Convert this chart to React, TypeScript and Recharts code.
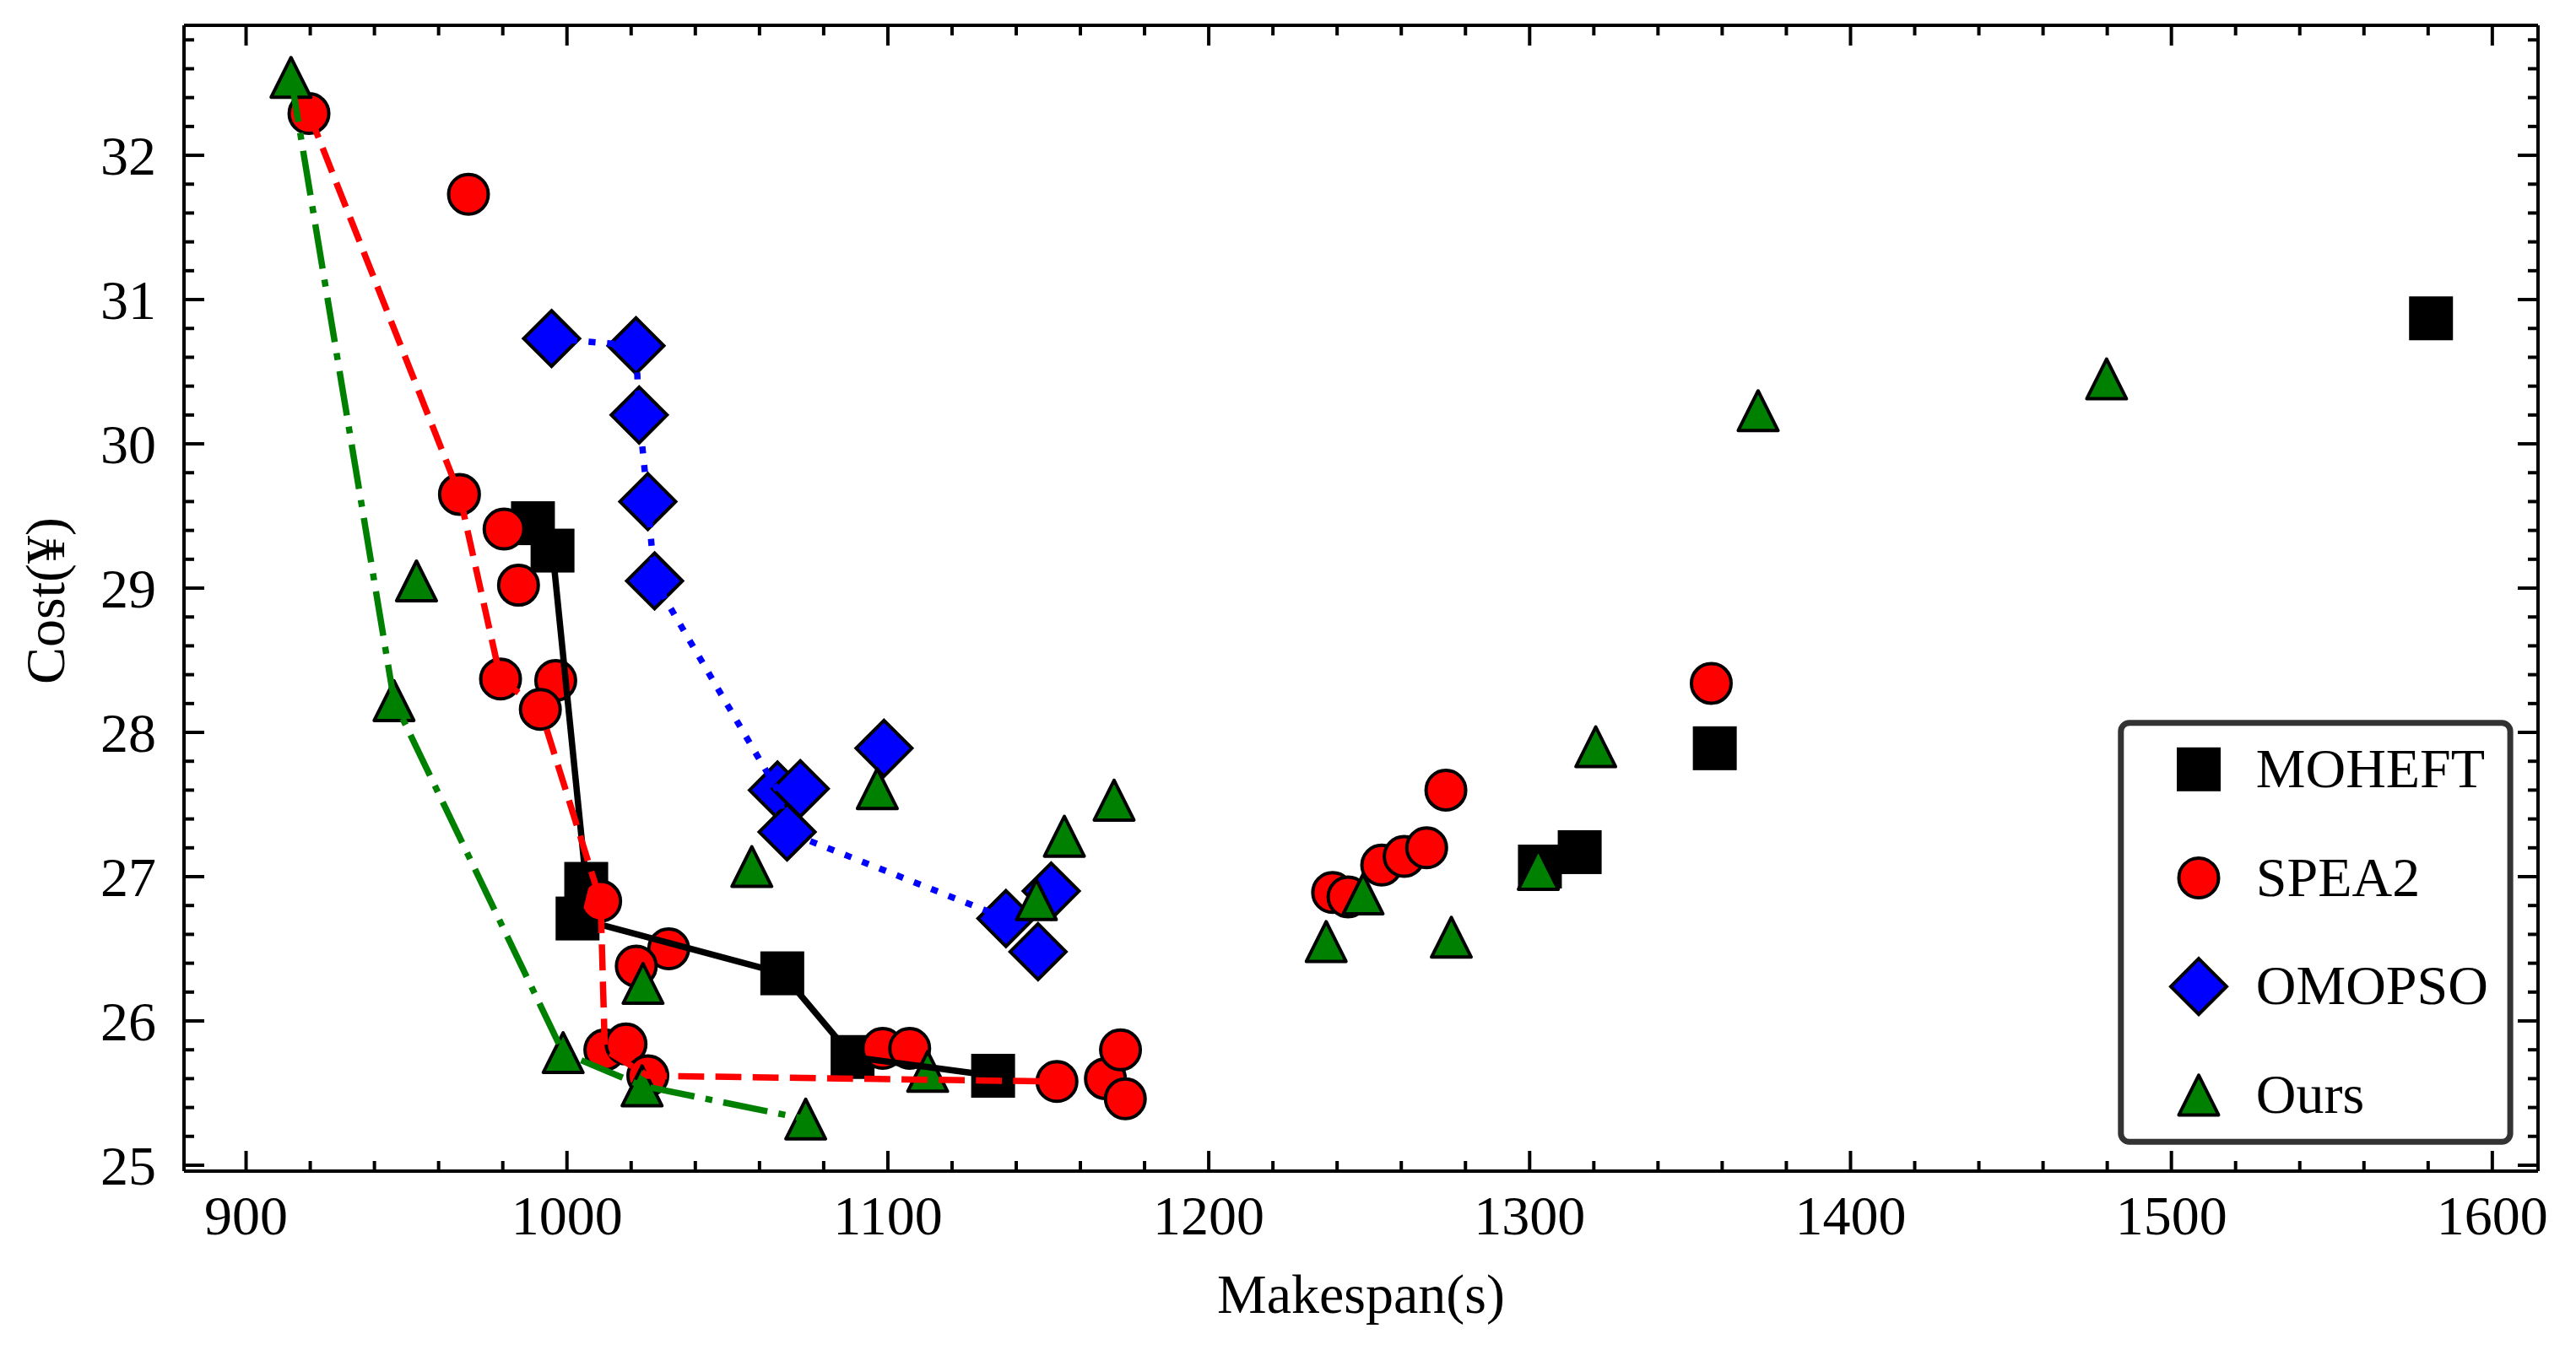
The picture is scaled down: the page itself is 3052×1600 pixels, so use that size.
import React from "react"
import { Legend, Scatter, ScatterChart, XAxis, YAxis } from "recharts"

// MOHEFT
const moheftMakespan = [989.4, 995.5, 1006.0, 1003.3, 1067.1, 1089.0, 1132.8, 1303.2, 1315.6, 1357.7, 1580.9]
const moheftCost = [29.45, 29.26, 26.95, 26.71, 26.33, 25.75, 25.62, 27.07, 27.17, 27.89, 30.87]
const moheftFrontMakespan = [989.4, 995.5, 1006.0, 1003.3, 1067.1, 1089.0, 1132.8]
const moheftFrontCost = [29.45, 29.26, 26.95, 26.71, 26.33, 25.75, 25.62]

// SPEA2
const spea2Makespan = [
  919.6, 969.3, 966.5, 980.4, 984.9, 979.3, 996.5, 991.7, 1010.5, 1031.7, 1021.6, 1011.8, 1018.4, 1025.2,
  1098.4, 1106.8, 1152.7, 1167.8, 1172.5, 1174.0, 1238.6, 1243.4, 1253.9, 1260.9, 1267.9, 1273.9, 1356.6,
]
const spea2Cost = [
  32.29, 31.73, 29.65, 29.41, 29.02, 28.37, 28.36, 28.16, 26.83, 26.5, 26.38, 25.8, 25.84, 25.62,
  25.81, 25.81, 25.58, 25.6, 25.8, 25.46, 26.89, 26.86, 27.08, 27.14, 27.2, 27.6, 28.34,
]
const spea2FrontMakespan = [919.6, 966.5, 979.3, 991.7, 1010.5, 1011.8, 1025.2, 1152.7]
const spea2FrontCost = [32.29, 29.65, 28.37, 28.16, 26.83, 25.8, 25.62, 25.58]

// OMOPSO
const omopsoMakespan = [995.2, 1021.5, 1022.5, 1025.2, 1027.3, 1065.6, 1072.7, 1068.6, 1098.8, 1136.8, 1150.9, 1146.8]
const omopsoCost = [30.73, 30.68, 30.2, 29.6, 29.05, 27.6, 27.61, 27.31, 27.89, 26.71, 26.9, 26.48]
const omopsoFrontMakespan = [995.2, 1021.5, 1022.5, 1025.2, 1027.3, 1065.6, 1068.6, 1136.8]
const omopsoFrontCost = [30.73, 30.68, 30.2, 29.6, 29.05, 27.6, 27.31, 26.71]

// Ours
const oursMakespan = [
  914.0, 953.1, 946.1, 998.8, 1023.4, 1023.7, 1074.4, 1057.6, 1096.7, 1112.4, 1146.3, 1155.0, 1170.5,
  1236.6, 1248.1, 1275.6, 1302.7, 1320.6, 1371.2, 1479.8,
]
const oursCost = [
  32.54, 29.05, 28.22, 25.78, 25.55, 26.26, 25.32, 27.07, 27.61, 25.65, 26.84, 27.28, 27.53,
  26.55, 26.88, 26.58, 27.05, 27.9, 30.23, 30.45,
]
const oursFrontMakespan = [914.0, 946.1, 998.8, 1023.4, 1074.4]
const oursFrontCost = [32.54, 28.22, 25.78, 25.55, 25.32]

const xMajorTicks = [900, 1000, 1100, 1200, 1300, 1400, 1500, 1600]
const yMajorTicks = [25, 26, 27, 28, 29, 30, 31, 32]

const toPoints = (xs: number[], ys: number[]) => xs.map((x, i) => ({ x, y: ys[i] }))

// matplotlib style auto limits: 5% padding around data
const padded = (vals: number[]): [number, number] => {
  const lo = Math.min(...vals)
  const hi = Math.max(...vals)
  const m = (hi - lo) * 0.05
  return [lo - m, hi + m]
}
const xDomain = padded([...moheftMakespan, ...spea2Makespan, ...omopsoMakespan, ...oursMakespan])
const yDomain = padded([...moheftCost, ...spea2Cost, ...omopsoCost, ...oursCost])

const round = (v: number) => Math.round(v * 100) / 100
const xTicks = xMajorTicks
  .flatMap((m) => [0, 1, 2, 3, 4].map((k) => m + k * 20))
  .filter((v) => v <= xDomain[1])
const yTicks = yMajorTicks
  .flatMap((m) => [0, 1, 2, 3, 4].map((k) => round(m + k * 0.2)))
  .filter((v) => v <= yDomain[1])

const FONT = "'Liberation Serif', 'DejaVu Serif', serif"
const FS = 66
const MAJOR = 24
const MINOR = 12
const EDGE = 4

type Marker = "square" | "circle" | "diamond" | "triangle"

const drawMarker = (kind: Marker, cx: number, cy: number, fill: string) => {
  if (kind === "square") {
    return <rect x={cx - 24} y={cy - 24} width={48} height={48} fill={fill} stroke="#000" strokeWidth={EDGE} />
  }
  if (kind === "circle") {
    return <circle cx={cx} cy={cy} r={23.5} fill={fill} stroke="#000" strokeWidth={EDGE} />
  }
  if (kind === "diamond") {
    const h = 33
    return (
      <polygon
        points={`${cx},${cy - h} ${cx + h},${cy} ${cx},${cy + h} ${cx - h},${cy}`}
        fill={fill}
        stroke="#000"
        strokeWidth={EDGE}
      />
    )
  }
  const h = 23.5
  return (
    <polygon
      points={`${cx},${cy - h} ${cx + h},${cy + h} ${cx - h},${cy + h}`}
      fill={fill}
      stroke="#000"
      strokeWidth={EDGE}
      strokeLinejoin="round"
    />
  )
}

const series = [
  {
    name: "MOHEFT",
    marker: "square" as Marker,
    color: "#000000",
    points: toPoints(moheftMakespan, moheftCost),
    front: toPoints(moheftFrontMakespan, moheftFrontCost),
    dash: undefined as string | undefined,
  },
  {
    name: "SPEA2",
    marker: "circle" as Marker,
    color: "#ff0000",
    points: toPoints(spea2Makespan, spea2Cost),
    front: toPoints(spea2FrontMakespan, spea2FrontCost),
    dash: "30.8 13.3",
  },
  {
    name: "OMOPSO",
    marker: "diamond" as Marker,
    color: "#0000ff",
    points: toPoints(omopsoMakespan, omopsoCost),
    front: toPoints(omopsoFrontMakespan, omopsoFrontCost),
    dash: "8.3 13.7",
  },
  {
    name: "Ours",
    marker: "triangle" as Marker,
    color: "#008000",
    points: toPoints(oursMakespan, oursCost),
    front: toPoints(oursFrontMakespan, oursFrontCost),
    dash: "53.3 13.3 8.3 13.3",
  },
]

const isMajor = (v: number, majors: number[]) => majors.some((m) => Math.abs(m - v) < 1e-6)

const BottomTick = (p: any) => {
  const v = p.payload.value
  const major = isMajor(v, xMajorTicks)
  return (
    <g>
      <line x1={p.x} x2={p.x} y1={p.y} y2={p.y - (major ? MAJOR : MINOR)} stroke="#000" strokeWidth={4} />
      {major && (
        <text x={p.x} y={p.y + 75} textAnchor="middle" fontFamily={FONT} fontSize={FS} fill="#000">
          {v}
        </text>
      )}
    </g>
  )
}

const TopTick = (p: any) => {
  const major = isMajor(p.payload.value, xMajorTicks)
  return <line x1={p.x} x2={p.x} y1={p.y} y2={p.y + (major ? MAJOR : MINOR)} stroke="#000" strokeWidth={4} />
}

const LeftTick = (p: any) => {
  const v = p.payload.value
  const major = isMajor(v, yMajorTicks)
  return (
    <g>
      <line x1={p.x} x2={p.x + (major ? MAJOR : MINOR)} y1={p.y} y2={p.y} stroke="#000" strokeWidth={4} />
      {major && (
        <text x={p.x - 33} y={p.y + 23} textAnchor="end" fontFamily={FONT} fontSize={FS} fill="#000">
          {v}
        </text>
      )}
    </g>
  )
}

const RightTick = (p: any) => {
  const major = isMajor(p.payload.value, yMajorTicks)
  return <line x1={p.x} x2={p.x - (major ? MAJOR : MINOR)} y1={p.y} y2={p.y} stroke="#000" strokeWidth={4} />
}

const LegendBox = () => (
  <svg width={476} height={512} style={{ overflow: "visible" }}>
    <rect x={6.8} y={6.7} width={461.3} height={496.6} rx={10} fill="#fff" stroke="#333" strokeWidth={7} />
    {series.map((s, i) => {
      const cy = 61.8 + i * 128.7
      return (
        <g key={s.name}>
          {drawMarker(s.marker, 99, cy, s.color)}
          <text x={166.8} y={cy + 21} fontFamily={FONT} fontSize={FS} fill="#000">
            {s.name}
          </text>
        </g>
      )
    })}
  </svg>
)

const axisLine = { stroke: "#000", strokeWidth: 4 }

export default function App() {
  return (
    <div style={{ position: "absolute", left: 0, top: 0, width: 3052, height: 1600, background: "#fff" }}>
      <ScatterChart width={3052} height={1600} margin={{ top: 20, right: 35, bottom: 202, left: 208 }}>
        <XAxis
          xAxisId="b"
          type="number"
          dataKey="x"
          domain={xDomain}
          allowDataOverflow
          ticks={xTicks}
          interval={0}
          height={10}
          tickSize={0}
          tickMargin={0}
          tickLine={false}
          axisLine={axisLine}
          tick={(p: any) => <BottomTick {...p} />}
        />
        <XAxis
          xAxisId="t"
          orientation="top"
          type="number"
          dataKey="x"
          domain={xDomain}
          allowDataOverflow
          ticks={xTicks}
          interval={0}
          height={10}
          tickSize={0}
          tickMargin={0}
          tickLine={false}
          axisLine={axisLine}
          tick={(p: any) => <TopTick {...p} />}
        />
        <YAxis
          yAxisId="l"
          type="number"
          dataKey="y"
          domain={yDomain}
          allowDataOverflow
          ticks={yTicks}
          interval={0}
          width={10}
          tickSize={0}
          tickMargin={0}
          tickLine={false}
          axisLine={axisLine}
          tick={(p: any) => <LeftTick {...p} />}
        />
        <YAxis
          yAxisId="r"
          orientation="right"
          type="number"
          dataKey="y"
          domain={yDomain}
          allowDataOverflow
          ticks={yTicks}
          interval={0}
          width={10}
          tickSize={0}
          tickMargin={0}
          tickLine={false}
          axisLine={axisLine}
          tick={(p: any) => <RightTick {...p} />}
        />
        {series.map((s) => (
          <Scatter
            key={s.name}
            name={s.name}
            xAxisId="b"
            yAxisId="l"
            data={s.points}
            fill={s.color}
            isAnimationActive={false}
            shape={(p: any) => drawMarker(s.marker, p.cx, p.cy, s.color)}
          />
        ))}
        {series.map((s) => (
          <Scatter
            key={s.name + "-front"}
            name={s.name + " front"}
            xAxisId="b"
            yAxisId="l"
            data={s.front}
            legendType="none"
            isAnimationActive={false}
            line={{ stroke: s.color, strokeWidth: 7.5, strokeDasharray: s.dash, fill: "none" }}
            lineType="joint"
            shape={() => <g />}
          />
        ))}
        <Legend
          layout="horizontal"
          verticalAlign="middle"
          align="center"
          wrapperStyle={{ left: 2506, top: 850, width: 476, height: 512 }}
          content={() => <LegendBox />}
        />
        <text x={1612.5} y={1556} textAnchor="middle" fontFamily={FONT} fontSize={FS} fill="#000">
          Makespan(s)
        </text>
        <text
          x={76}
          y={712}
          textAnchor="middle"
          fontFamily={FONT}
          fontSize={FS}
          fill="#000"
          transform="rotate(-90, 76, 712)"
        >
          Cost(¥)
        </text>
      </ScatterChart>
    </div>
  )
}
